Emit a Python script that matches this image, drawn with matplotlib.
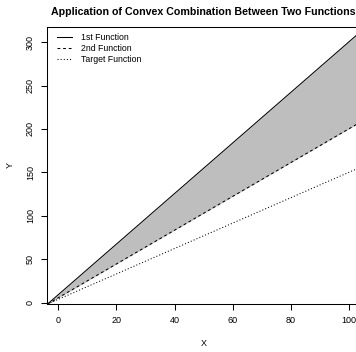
import matplotlib
matplotlib.use("Agg")
import matplotlib.pyplot as plt

plt.rcParams['font.family'] = ['Liberation Sans', 'DejaVu Sans']

# Data
x_vals = [-3.7, 104]
first_fn = [-1.5, 312]
second_fn = [-1.5, 208]
target_fn = [-1.5, 156]
x_ticks = [0, 20, 40, 60, 80, 100]
y_ticks = [0, 50, 100, 150, 200, 250, 300]
labels = ["1st Function", "2nd Function", "Target Function"]
title = "Application of Convex Combination Between Two Functions"

W, H = 356, 352
fig = plt.figure(figsize=(W / 100, H / 100), dpi=100)
left_px, right_px, top_px, bot_px = 46.7, 360.6, 27, 304
ax = fig.add_axes([left_px / W, 1 - bot_px / H, (right_px - left_px) / W, (bot_px - top_px) / H])

ax.fill_between(x_vals, first_fn, second_fn, color='#BEBEBE', linewidth=0)
lw = 0.75
l1, = ax.plot(x_vals, first_fn, color='black', lw=lw, linestyle='-')
l2, = ax.plot(x_vals, second_fn, color='black', lw=lw, linestyle=(0, (2.7, 2.7)))
l3, = ax.plot(x_vals, target_fn, color='black', lw=lw, linestyle=(0, (1, 2)))

ax.set_xlim(-4, 104)
ax.set_ylim(-1.5, 317.4)
ax.set_xticks(x_ticks)
ax.set_yticks(y_ticks)
ax.tick_params(direction='out', length=4.5, width=0.75, labelsize=6.5, pad=4)
for lab in ax.get_yticklabels():
    lab.set_rotation(90)
    lab.set_va('center')
for s in ax.spines.values():
    s.set_linewidth(0.75)

fig.text(203.6 / W, 1 - 343 / H, "X", ha='center', va='center', fontsize=6.5)
fig.text(10 / W, 1 - 165 / H, "Y", ha='center', va='center', fontsize=6.5, rotation=90)
fig.text(203.6 / W, 1 - 12 / H, title, ha='center', va='center', fontsize=7.7, fontweight='bold')

leg = ax.legend([l1, l2, l3], labels, loc='upper left', frameon=False, fontsize=6.3,
                handlelength=1.7, handletextpad=1.1, labelspacing=0.25,
                borderaxespad=0.0, borderpad=0.0,
                bbox_to_anchor=((56.7 - left_px) / (right_px - left_px), 1 - (33 - top_px) / (bot_px - top_px)))

fig.savefig("out.png", dpi=100)
